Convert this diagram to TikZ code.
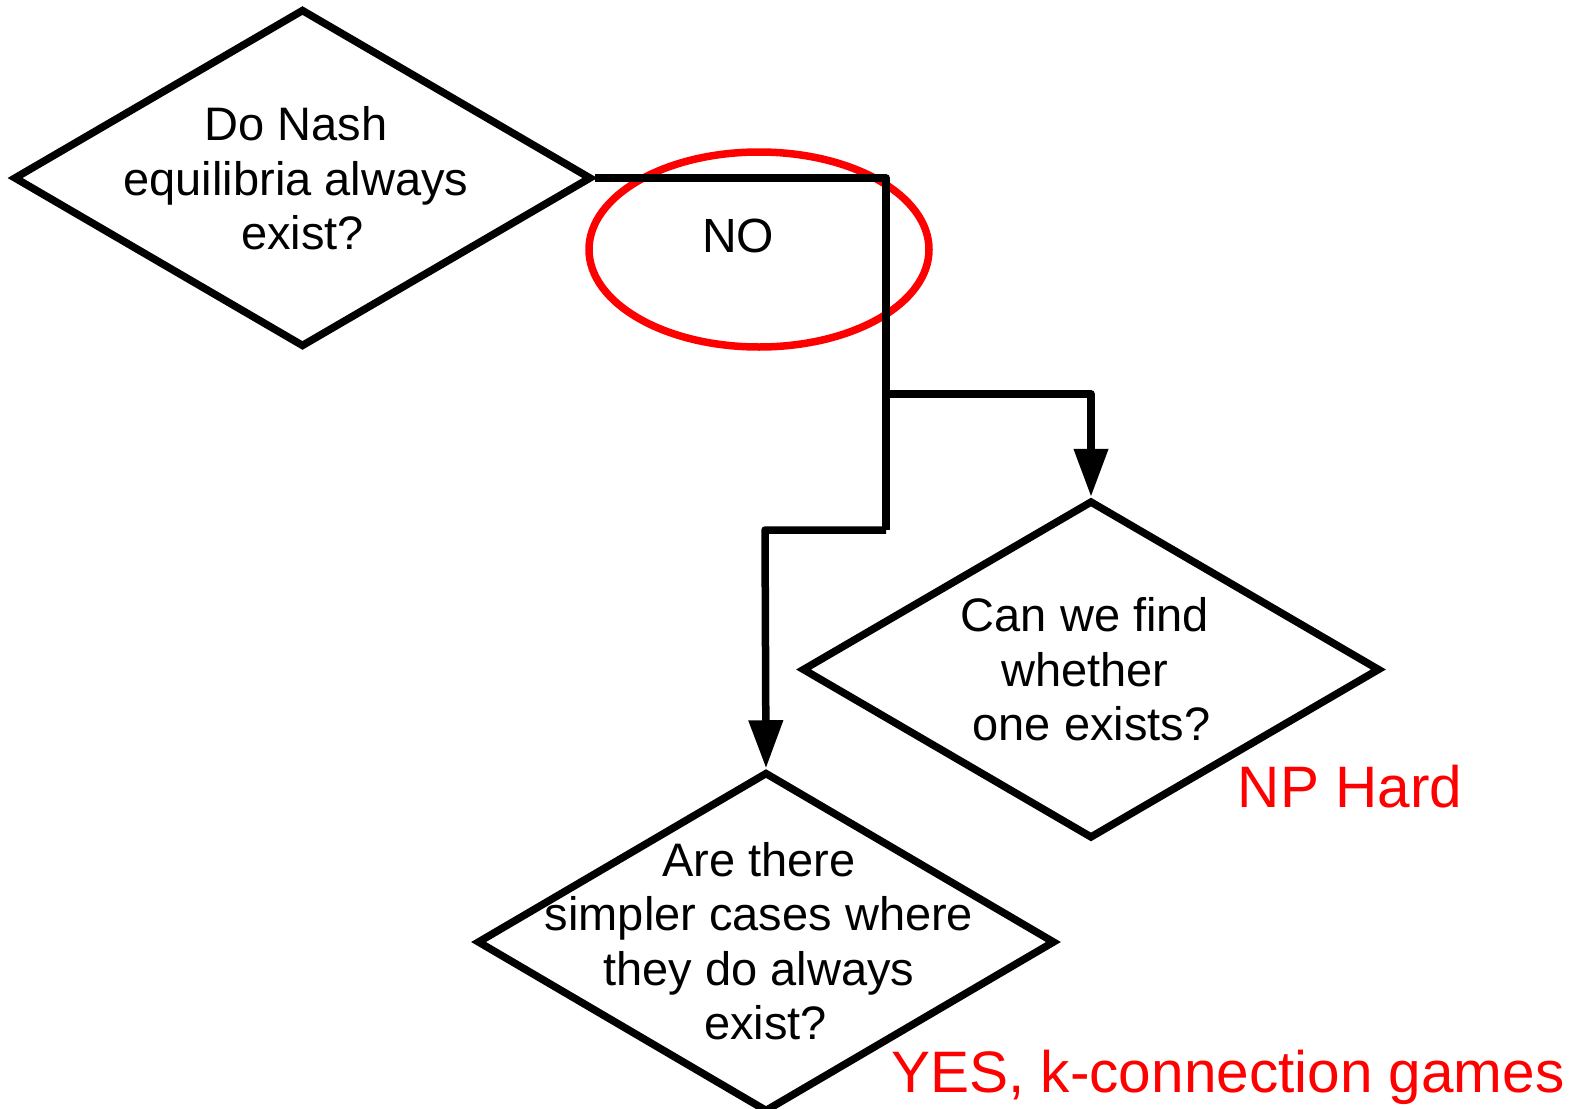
\documentclass[tikz,border=0pt]{standalone}
\usepackage{fontspec}
\setmainfont{Liberation Sans}
\usetikzlibrary{shapes.geometric,arrows.meta}
\begin{document}
\begin{tikzpicture}[x=1pt,y=-1pt,
  dia/.style={draw=black,line width=7.5pt,shape=diamond,inner sep=0pt,
    minimum width=578pt,minimum height=338pt,line join=miter},
  qtext/.style={align=center,inner sep=0pt,font=\fontsize{47}{54.5}\selectfont},
  conn/.style={draw=black,line width=7.5pt,line join=round},
  arr/.style={conn,-{Triangle[length=48pt,width=33pt]}},
  redtext/.style={text=red,inner sep=0pt,anchor=base,font=\fontsize{58.5}{66}\selectfont}]
\useasboundingbox (0,0) rectangle (1581,1108);

% decision boxes
\node[dia] (d1) at (302.5,178) {};
\node[qtext] (q1) at (296,178.5) {Do Nash\\equilibria always\\~exist?};
\node[dia] (d2) at (1091,669.5) {};
\node[qtext] (q2) at (1085,669.5) {Can we find\\whether\\~one exists?};
\node[dia,minimum height=340pt] (d3) at (766,942) {};
\node[qtext] (q3) at (759,941) {Are there\\simpler cases where\\they do always\\~exist?};

% highlighted answer
\node[draw=red,line width=7.5pt,shape=ellipse,inner sep=0pt,
  minimum width=340pt,minimum height=195pt] (ring) at (759,249.5) {};
\node[inner sep=0pt,anchor=base,font=\fontsize{48}{54}\selectfont] (no) at (738,252) {NO};

% connectors
\coordinate (c1) at (886,178);
\coordinate (c2) at (886,394);
\coordinate (c3) at (886,530);
\coordinate (c4) at (765,530);
\coordinate (c5) at (1091,394);
\draw[conn] (d1.east) -- (c1) -- (c3);
\draw[arr] (c3) -- (c4) -- (d3.north);
\draw[arr] (c2) -- (c5) -- (d2.north);

% answers
\node[redtext] (np) at (1350,807) {NP Hard};
\node[redtext] (yes) at (1228,1092) {YES, k-connection games};
\end{tikzpicture}
\end{document}
